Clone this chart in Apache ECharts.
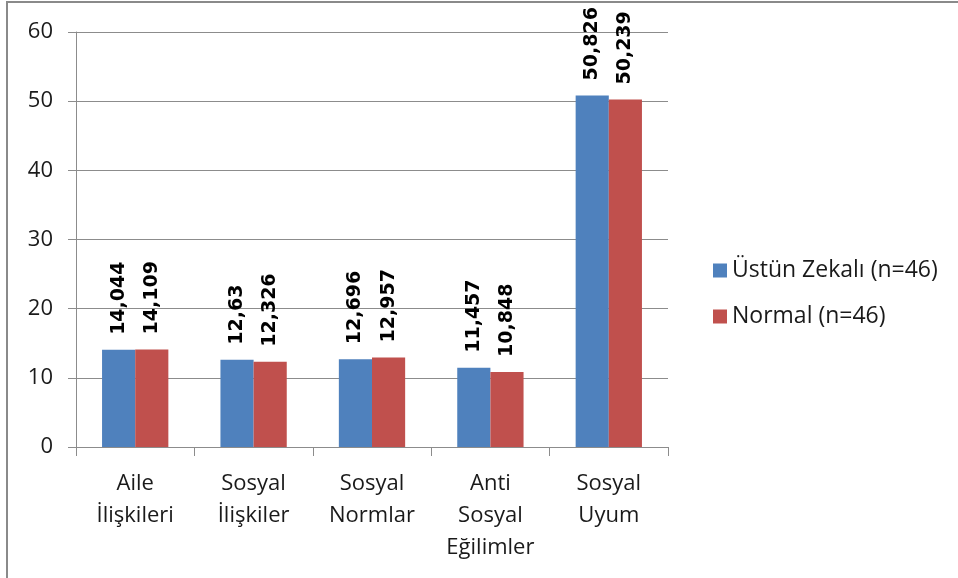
<!DOCTYPE html>
<html>
<head>
<meta charset="utf-8">
<script src="https://cdn.jsdelivr.net/npm/echarts@6/dist/echarts.min.js"></script>
<style>
  html, body { margin: 0; padding: 0; background: #fff; }
  #chart { width: 958px; height: 578px; }
</style>
</head>
<body>
<div id="chart"></div>
<script>
var categories = ['Aile\nİlişkileri', 'Sosyal\nİlişkiler', 'Sosyal\nNormlar', 'Anti\nSosyal\nEğilimler', 'Sosyal\nUyum'];
var seriesNames = ['Üstün Zekalı (n=46)', 'Normal (n=46)'];
var ustunValues = [14.044, 12.63, 12.696, 11.457, 50.826];
var normalValues = [14.109, 12.326, 12.957, 10.848, 50.239];
var yTicks = { min: 0, max: 60, interval: 10 };

var chart = echarts.init(document.getElementById('chart'));

var textFont = 'Open Sans';
var gray = '#8c8c8c';

function barLabel() {
  return {
    show: true,
    position: 'top',
    rotate: 90,
    align: 'left',
    verticalAlign: 'middle',
    distance: 15,
    fontFamily: 'DejaVu Sans',
    fontWeight: 'bold',
    fontSize: 19,
    color: '#000',
    formatter: function (p) {
      return String(p.value).replace('.', ',');
    }
  };
}

var option = {
  animation: false,
  backgroundColor: '#fff',
  graphic: [{
    type: 'rect',
    shape: { x: 7, y: 2, width: 1200, height: 1200 },
    style: { fill: 'none', stroke: '#8a8a8a', lineWidth: 2 },
    silent: true
  }],
  legend: {
    orient: 'vertical',
    left: 708,
    top: 254,
    itemWidth: 14,
    itemHeight: 14,
    itemGap: 23,
    icon: 'rect',
    textStyle: { fontFamily: textFont, fontSize: 23, color: '#1a1a1a' },
    data: seriesNames
  },
  grid: { left: 76, right: 290, top: 32, bottom: 131 },
  xAxis: {
    type: 'category',
    data: categories,
    axisLine: { lineStyle: { color: gray, width: 1 } },
    axisTick: { show: true, length: 9, lineStyle: { color: gray } },
    axisLabel: {
      interval: 0,
      margin: 21,
      fontFamily: textFont,
      fontSize: 22,
      lineHeight: 32,
      color: '#1a1a1a',
      verticalAlign: 'top'
    }
  },
  yAxis: {
    type: 'value',
    min: yTicks.min,
    max: yTicks.max,
    interval: yTicks.interval,
    axisLine: { show: true, lineStyle: { color: gray, width: 1 } },
    axisTick: { show: true, length: 8, lineStyle: { color: gray } },
    splitLine: { lineStyle: { color: gray, width: 1 } },
    axisLabel: {
      margin: 23,
      fontFamily: textFont,
      fontSize: 22,
      color: '#1a1a1a'
    }
  },
  series: [
    {
      name: seriesNames[0],
      type: 'bar',
      data: ustunValues,
      barGap: '0%',
      barCategoryGap: '44%',
      itemStyle: { color: '#4f81bd' },
      label: barLabel()
    },
    {
      name: seriesNames[1],
      type: 'bar',
      data: normalValues,
      barGap: '0%',
      barCategoryGap: '44%',
      itemStyle: { color: '#c0504d' },
      label: barLabel()
    }
  ]
};

chart.setOption(option);
</script>
</body>
</html>
